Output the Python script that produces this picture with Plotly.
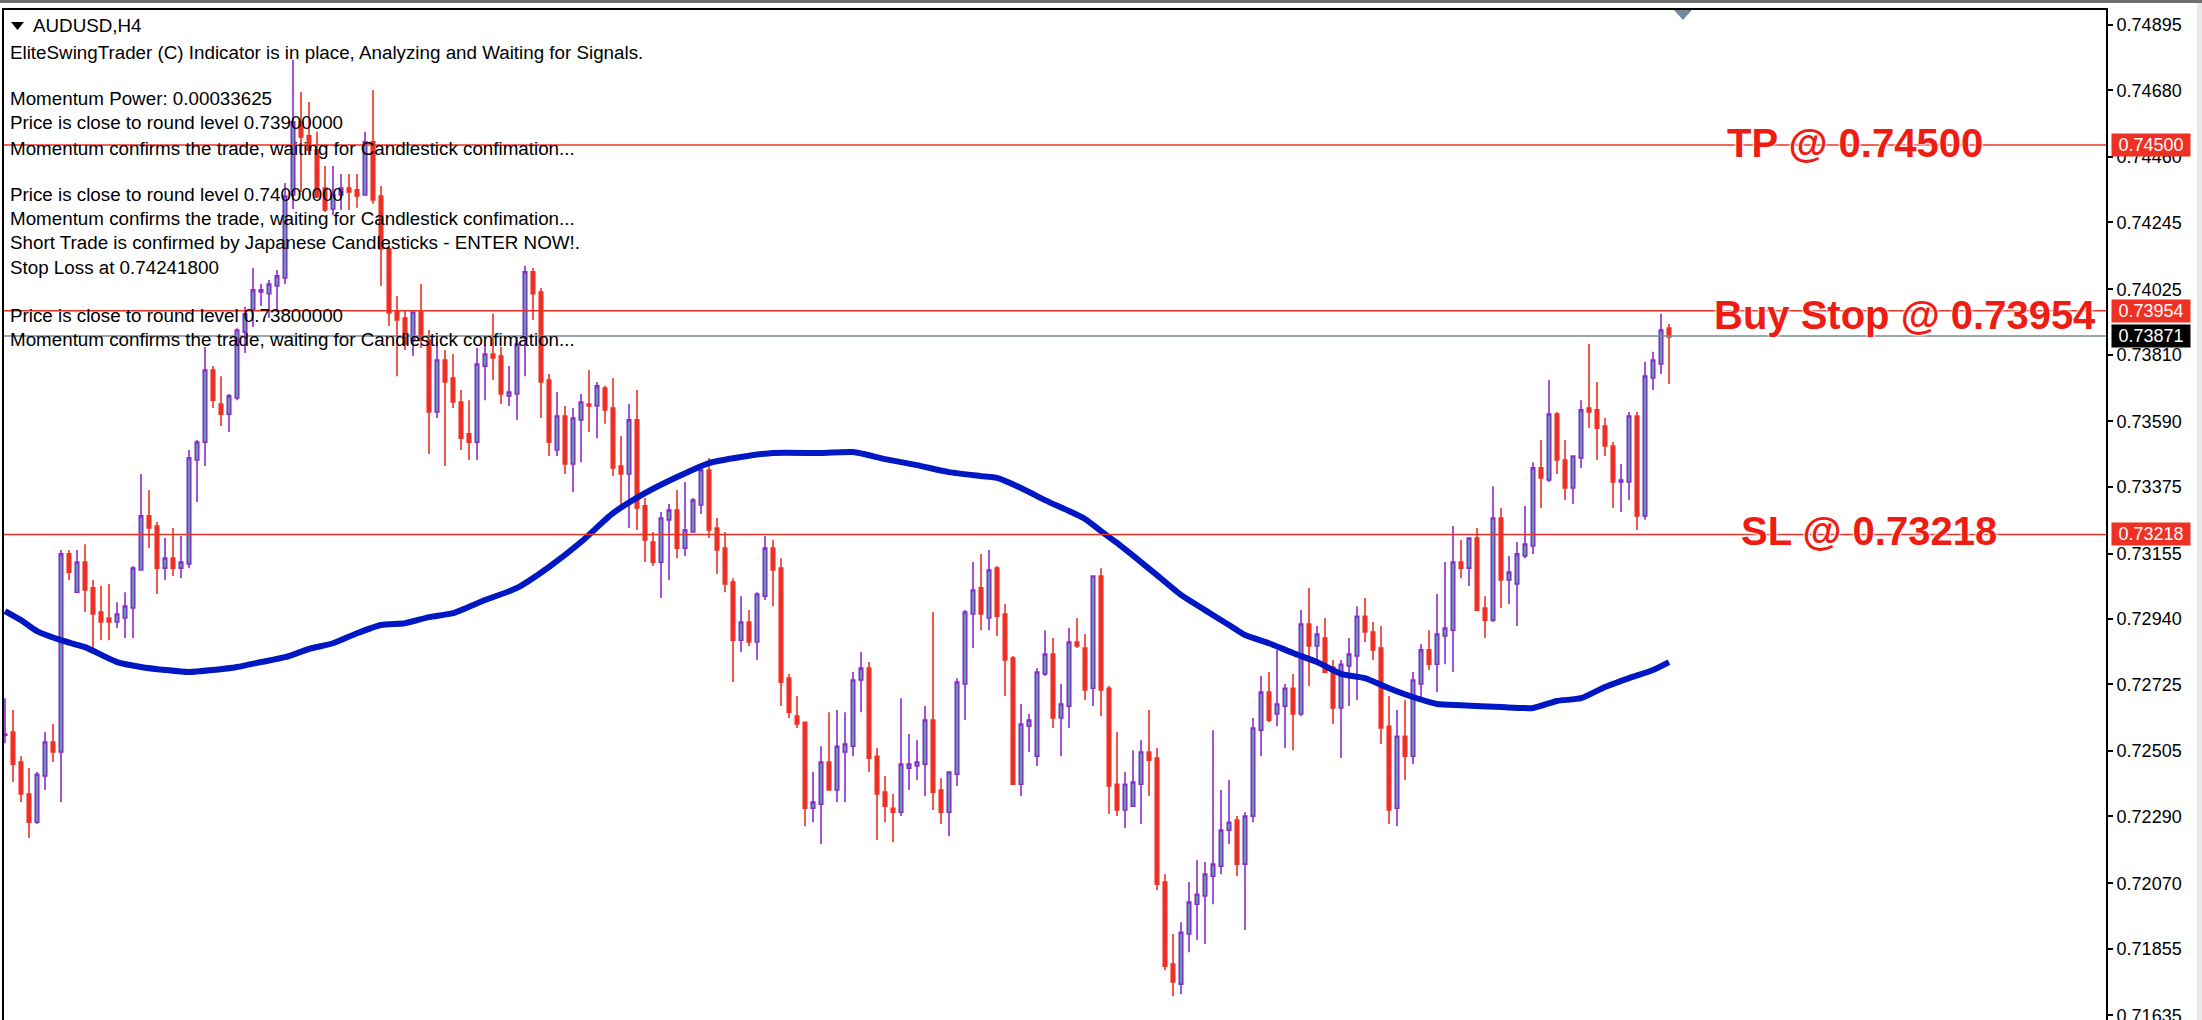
import plotly.graph_objects as go

# AUDUSD H4 candles
open_ = [
    0.72557, 0.72568, 0.72469, 0.72364, 0.72271, 0.72423, 0.72535, 0.72502, 0.73154, 0.73028,
    0.73127, 0.73042, 0.72963, 0.72943, 0.72930, 0.72943, 0.72976, 0.73101, 0.73279, 0.73246,
    0.73107, 0.73140, 0.73107, 0.73121, 0.73463, 0.73522, 0.73759, 0.73647, 0.73614, 0.73667,
    0.73884, 0.73957, 0.74016, 0.74010, 0.74036, 0.74062, 0.74335, 0.74576, 0.74530, 0.74483,
    0.74358, 0.74289, 0.74335, 0.74358, 0.74352, 0.74335, 0.74510, 0.74332, 0.74158, 0.73954,
    0.73930, 0.73858, 0.73950, 0.73858, 0.73621, 0.73792, 0.73733, 0.73654, 0.73549, 0.73522,
    0.73772, 0.73812, 0.73805, 0.73674, 0.73680, 0.73865, 0.74082, 0.74016, 0.73726, 0.73496,
    0.73608, 0.73450, 0.73595, 0.73647, 0.73641, 0.73700, 0.73634, 0.73443, 0.73417, 0.73595,
    0.73312, 0.73193, 0.73127, 0.73266, 0.73298, 0.73173, 0.73226, 0.73315, 0.73430, 0.73239,
    0.73173, 0.73061, 0.72870, 0.72930, 0.72864, 0.73015, 0.73173, 0.73107, 0.72745, 0.72620,
    0.72600, 0.72317, 0.72330, 0.72469, 0.72377, 0.72502, 0.72521, 0.72739, 0.72778, 0.72488,
    0.72370, 0.72317, 0.72304, 0.72449, 0.72456, 0.72462, 0.72607, 0.72377, 0.72304, 0.72429,
    0.72726, 0.72956, 0.73042, 0.72943, 0.73107, 0.72956, 0.72811, 0.72396, 0.72587, 0.72488,
    0.72759, 0.72824, 0.72614, 0.72653, 0.72864, 0.72844, 0.72712, 0.73081, 0.72712, 0.72396,
    0.72311, 0.72324, 0.72396, 0.72502, 0.72482, 0.72074, 0.71804, 0.71738, 0.71903, 0.72001,
    0.72028, 0.72093, 0.72126, 0.72245, 0.72278, 0.72133, 0.72291, 0.72574, 0.72699, 0.72627,
    0.72653, 0.72712, 0.72627, 0.72923, 0.72851, 0.72877, 0.72782, 0.72647, 0.72785, 0.72818,
    0.72949, 0.72897, 0.72844, 0.72587, 0.72317, 0.72554, 0.72488, 0.72726, 0.72838, 0.72791,
    0.72884, 0.72903, 0.73127, 0.73107, 0.73206, 0.72976, 0.72936, 0.73272, 0.73068, 0.73055,
    0.73147, 0.73180, 0.73437, 0.73397, 0.73614, 0.73463, 0.73371, 0.73470, 0.73634, 0.73628,
    0.73575, 0.73509, 0.73391, 0.73391, 0.73608, 0.73279, 0.73733, 0.73779, 0.73897,
]
high = [
    0.72679, 0.72640, 0.72488, 0.72449, 0.72436, 0.72568, 0.72594, 0.73167, 0.73167, 0.73167,
    0.73186, 0.73068, 0.73048, 0.73055, 0.72995, 0.73028, 0.73114, 0.73417, 0.73364, 0.73259,
    0.73206, 0.73239, 0.73213, 0.73496, 0.73529, 0.73835, 0.73772, 0.73739, 0.73680, 0.73897,
    0.73967, 0.74095, 0.74042, 0.74055, 0.74088, 0.74375, 0.74780, 0.74674, 0.74641, 0.74543,
    0.74431, 0.74431, 0.74404, 0.74404, 0.74404, 0.74543, 0.74681, 0.74365, 0.74171, 0.74003,
    0.73957, 0.73950, 0.74042, 0.73891, 0.73851, 0.73825, 0.73812, 0.73693, 0.73660, 0.73832,
    0.73842, 0.73944, 0.73835, 0.73772, 0.73868, 0.74102, 0.74095, 0.74029, 0.73746, 0.73687,
    0.73641, 0.73634, 0.73680, 0.73759, 0.73720, 0.73707, 0.73733, 0.73542, 0.73647, 0.73693,
    0.73338, 0.73226, 0.73292, 0.73318, 0.73364, 0.73391, 0.73338, 0.73440, 0.73470, 0.73272,
    0.73226, 0.73074, 0.73015, 0.72969, 0.73028, 0.73213, 0.73200, 0.73140, 0.72759, 0.72686,
    0.72600, 0.72436, 0.72521, 0.72633, 0.72640, 0.72633, 0.72765, 0.72831, 0.72798, 0.72515,
    0.72423, 0.72364, 0.72679, 0.72561, 0.72541, 0.72653, 0.72963, 0.72416, 0.72436, 0.72745,
    0.72969, 0.73127, 0.73154, 0.73167, 0.73114, 0.72989, 0.72818, 0.72660, 0.72627, 0.72778,
    0.72903, 0.72877, 0.72726, 0.72910, 0.72943, 0.72890, 0.73081, 0.73107, 0.72719, 0.72568,
    0.72436, 0.72508, 0.72541, 0.72640, 0.72515, 0.72100, 0.71903, 0.71942, 0.72074, 0.72146,
    0.72140, 0.72574, 0.72377, 0.72410, 0.72291, 0.72304, 0.72614, 0.72752, 0.72765, 0.72838,
    0.72726, 0.72759, 0.72969, 0.73042, 0.72917, 0.72943, 0.72805, 0.72805, 0.72877, 0.72982,
    0.73009, 0.72930, 0.72917, 0.72686, 0.72640, 0.72673, 0.72765, 0.72857, 0.72903, 0.73022,
    0.73127, 0.73246, 0.73200, 0.73206, 0.73239, 0.73015, 0.73377, 0.73305, 0.73147, 0.73193,
    0.73312, 0.73456, 0.73529, 0.73726, 0.73621, 0.73529, 0.73476, 0.73660, 0.73845, 0.73720,
    0.73601, 0.73522, 0.73450, 0.73621, 0.73621, 0.73786, 0.73819, 0.73944, 0.73911,
]
low = [
    0.72531, 0.72403, 0.72337, 0.72219, 0.72265, 0.72377, 0.72469, 0.72337, 0.73068, 0.73028,
    0.72963, 0.72844, 0.72870, 0.72870, 0.72910, 0.72877, 0.72877, 0.73101, 0.73173, 0.73022,
    0.73068, 0.73081, 0.73074, 0.73107, 0.73325, 0.73443, 0.73634, 0.73575, 0.73555, 0.73660,
    0.73815, 0.73901, 0.73970, 0.73930, 0.73950, 0.74042, 0.74289, 0.74345, 0.74467, 0.74325,
    0.74279, 0.74269, 0.74286, 0.74286, 0.74293, 0.74335, 0.74306, 0.74036, 0.73904, 0.73739,
    0.73825, 0.73805, 0.73832, 0.73483, 0.73601, 0.73443, 0.73634, 0.73496, 0.73463, 0.73463,
    0.73660, 0.73726, 0.73647, 0.73641, 0.73595, 0.73739, 0.73924, 0.73601, 0.73476, 0.73476,
    0.73417, 0.73358, 0.73456, 0.73555, 0.73535, 0.73582, 0.73410, 0.73312, 0.73239, 0.73233,
    0.73127, 0.73114, 0.73009, 0.73068, 0.73140, 0.73147, 0.73226, 0.73285, 0.73206, 0.73088,
    0.73028, 0.72732, 0.72831, 0.72851, 0.72805, 0.73002, 0.72982, 0.72653, 0.72614, 0.72581,
    0.72258, 0.72271, 0.72199, 0.72377, 0.72337, 0.72337, 0.72488, 0.72633, 0.72436, 0.72212,
    0.72271, 0.72205, 0.72291, 0.72377, 0.72410, 0.72357, 0.72311, 0.72265, 0.72225, 0.72390,
    0.72607, 0.72844, 0.72903, 0.72903, 0.72884, 0.72686, 0.72396, 0.72357, 0.72502, 0.72456,
    0.72752, 0.72581, 0.72488, 0.72581, 0.72844, 0.72673, 0.72653, 0.72620, 0.72298, 0.72291,
    0.72252, 0.72324, 0.72265, 0.72357, 0.72047, 0.71784, 0.71698, 0.71705, 0.71843, 0.71883,
    0.71870, 0.72001, 0.72100, 0.72199, 0.72093, 0.71916, 0.72271, 0.72488, 0.72600, 0.72587,
    0.72515, 0.72508, 0.72620, 0.72719, 0.72805, 0.72765, 0.72594, 0.72482, 0.72653, 0.72673,
    0.72864, 0.72805, 0.72528, 0.72265, 0.72258, 0.72410, 0.72462, 0.72673, 0.72772, 0.72699,
    0.72791, 0.72765, 0.73074, 0.73048, 0.72969, 0.72877, 0.72930, 0.72976, 0.72989, 0.72917,
    0.73140, 0.73154, 0.73305, 0.73391, 0.73417, 0.73331, 0.73318, 0.73437, 0.73568, 0.73463,
    0.73476, 0.73305, 0.73292, 0.73331, 0.73233, 0.73266, 0.73693, 0.73746, 0.73713,
]
close = [
    0.72561, 0.72462, 0.72364, 0.72271, 0.72429, 0.72535, 0.72502, 0.73154, 0.73094, 0.73127,
    0.73035, 0.72956, 0.72930, 0.72930, 0.72956, 0.72982, 0.73107, 0.73279, 0.73239, 0.73107,
    0.73140, 0.73107, 0.73127, 0.73470, 0.73522, 0.73759, 0.73660, 0.73614, 0.73674, 0.73891,
    0.73944, 0.74023, 0.74023, 0.74042, 0.74069, 0.74332, 0.74576, 0.74526, 0.74483, 0.74329,
    0.74286, 0.74335, 0.74358, 0.74345, 0.74332, 0.74510, 0.74319, 0.74158, 0.73947, 0.73924,
    0.73845, 0.73950, 0.73858, 0.73621, 0.73792, 0.73720, 0.73654, 0.73535, 0.73522, 0.73779,
    0.73812, 0.73799, 0.73680, 0.73687, 0.73845, 0.74082, 0.74010, 0.73720, 0.73522, 0.73608,
    0.73450, 0.73601, 0.73654, 0.73641, 0.73707, 0.73628, 0.73437, 0.73417, 0.73595, 0.73305,
    0.73200, 0.73127, 0.73272, 0.73298, 0.73173, 0.73233, 0.73331, 0.73430, 0.73233, 0.73167,
    0.73055, 0.72870, 0.72930, 0.72864, 0.73022, 0.73173, 0.73101, 0.72732, 0.72633, 0.72594,
    0.72317, 0.72337, 0.72469, 0.72377, 0.72521, 0.72528, 0.72739, 0.72778, 0.72482, 0.72364,
    0.72324, 0.72304, 0.72462, 0.72462, 0.72469, 0.72607, 0.72370, 0.72304, 0.72436, 0.72732,
    0.72963, 0.73035, 0.72956, 0.73101, 0.72949, 0.72805, 0.72396, 0.72594, 0.72607, 0.72765,
    0.72824, 0.72614, 0.72660, 0.72864, 0.72851, 0.72706, 0.73081, 0.72706, 0.72390, 0.72311,
    0.72396, 0.72403, 0.72502, 0.72475, 0.72067, 0.71797, 0.71745, 0.71909, 0.72008, 0.72034,
    0.72100, 0.72133, 0.72245, 0.72271, 0.72133, 0.72291, 0.72581, 0.72699, 0.72607, 0.72660,
    0.72712, 0.72627, 0.72923, 0.72851, 0.72890, 0.72765, 0.72647, 0.72791, 0.72824, 0.72949,
    0.72897, 0.72838, 0.72581, 0.72311, 0.72554, 0.72488, 0.72739, 0.72838, 0.72791, 0.72890,
    0.72910, 0.73127, 0.73107, 0.73206, 0.72969, 0.72936, 0.73272, 0.73068, 0.73094, 0.73154,
    0.73186, 0.73437, 0.73404, 0.73614, 0.73463, 0.73371, 0.73476, 0.73628, 0.73621, 0.73568,
    0.73509, 0.73391, 0.73397, 0.73608, 0.73279, 0.73739, 0.73792, 0.73891, 0.73868,
]
bars = list(range(len(close)))

# Moving average, sampled at these bars
ma_bars = [
    0, 2, 4, 7, 10, 14, 17, 20, 23, 26, 29, 32, 35, 38, 41, 44, 47, 50, 53, 56, 60, 64, 68, 72,
    76, 80, 84, 88, 92, 96, 102, 106, 110, 114, 118, 122, 124, 127, 130, 133, 135, 137, 139, 142,
    144, 147, 150, 153, 155, 158, 161, 164, 167, 170, 173, 176, 179, 182, 187, 191, 194, 197,
    200, 203, 206, 208,
]
ma_values = [
    0.72966, 0.72936, 0.72900, 0.72870, 0.72847, 0.72798, 0.72782, 0.72772, 0.72765, 0.72772,
    0.72782, 0.72798, 0.72814, 0.72841, 0.72860, 0.72893, 0.72920, 0.72926, 0.72946, 0.72959,
    0.73002, 0.73042, 0.73111, 0.73193, 0.73288, 0.73354, 0.73407, 0.73453, 0.73473, 0.73486,
    0.73486, 0.73489, 0.73466, 0.73446, 0.73423, 0.73410, 0.73404, 0.73371, 0.73331, 0.73295,
    0.73269, 0.73229, 0.73190, 0.73127, 0.73084, 0.73019, 0.72969, 0.72920, 0.72887, 0.72860,
    0.72828, 0.72798, 0.72759, 0.72745, 0.72712, 0.72683, 0.72660, 0.72656, 0.72650, 0.72647,
    0.72670, 0.72679, 0.72716, 0.72745, 0.72772, 0.72798,
]

tick_values = [
    0.74895, 0.74680, 0.74460, 0.74245, 0.74025, 0.73810, 0.73590, 0.73375,
    0.73155, 0.72940, 0.72725, 0.72505, 0.72290, 0.72070, 0.71855, 0.71635,
]
tick_labels = ["%.5f" % v for v in tick_values]

# Horizontal price levels
level_prices = [0.74500, 0.73954, 0.73218, 0.73871]
level_colors = ["#EE3124", "#EE3124", "#EE3124", "#778899"]
level_boxes = ["#EE3124", "#EE3124", "#EE3124", "#000000"]

big_labels = ["TP @ 0.74500", "Buy Stop @ 0.73954", "SL @ 0.73218"]
big_label_bars = [231.25, 237.5, 233.0]
big_label_prices = [0.74505, 0.73940, 0.73230]

comment_lines = [
    "AUDUSD,H4",
    "EliteSwingTrader (C) Indicator is in place, Analyzing and Waiting for Signals.",
    "Momentum Power: 0.00033625",
    "Price is close to round level 0.73900000",
    "Momentum confirms the trade, waiting for Candlestick confimation...",
    "Price is close to round level 0.74000000",
    "Momentum confirms the trade, waiting for Candlestick confimation...",
    "Short Trade is confirmed by Japanese Candlesticks - ENTER NOW!.",
    "Stop Loss at 0.74241800",
    "Price is close to round level 0.73800000",
    "Momentum confirms the trade, waiting for Candlestick confimation...",
]
comment_x = [31, 8, 8, 8, 8, 8, 8, 8, 8, 8, 8]
comment_y = [25, 52, 99, 123, 148, 195, 219, 243, 267, 315, 339]

# Page and plot box, in pixels
WIDTH, HEIGHT = 2202, 1020
LEFT, RIGHT, TOP = 4, 2106, 10
FONT = "Liberation Sans"


def paper_x(px):
    return (px - LEFT) / (RIGHT - LEFT)


def paper_y(py):
    return 1 - (py - TOP) / (HEIGHT - TOP)


fig = go.Figure()

fig.add_trace(go.Candlestick(
    x=bars, open=open_, high=high, low=low, close=close,
    increasing=dict(line=dict(color="#8A2BD2", width=1.6), fillcolor="#56AB9E"),
    decreasing=dict(line=dict(color="#EE3124", width=1.6), fillcolor="#EE3124"),
    whiskerwidth=0,
    hoverinfo="skip",
    showlegend=False,
))

fig.add_trace(go.Scatter(
    x=ma_bars, y=ma_values, mode="lines",
    line=dict(color="#0018C4", width=6, shape="spline", smoothing=0.6),
    hoverinfo="skip",
    showlegend=False,
))

# Level lines sit on top of the candles
for price, color in zip(level_prices, level_colors):
    fig.add_shape(type="line", xref="paper", x0=0, x1=1, yref="y", y0=price, y1=price,
                  line=dict(color=color, width=1.5), layer="above")

# Little window furniture: top bar, right strip, markers
fig.add_shape(type="rect", xref="paper", yref="paper", x0=paper_x(0), x1=paper_x(WIDTH),
              y0=paper_y(3), y1=paper_y(0), fillcolor="#6E6E6E", line_width=0)
fig.add_shape(type="rect", xref="paper", yref="paper", x0=paper_x(2197), x1=paper_x(WIDTH),
              y0=paper_y(HEIGHT), y1=paper_y(3), fillcolor="#E8E8E8", line_width=0)
fig.add_shape(type="path", xref="paper", yref="paper",
              path="M %f,%f L %f,%f L %f,%f Z" % (paper_x(1674), paper_y(10), paper_x(1692), paper_y(10),
                                                  paper_x(1683), paper_y(20)),
              fillcolor="#778899", line_width=0)
fig.add_shape(type="path", xref="paper", yref="paper",
              path="M %f,%f L %f,%f L %f,%f Z" % (paper_x(11), paper_y(22), paper_x(24), paper_y(22),
                                                  paper_x(17.5), paper_y(30)),
              fillcolor="#000000", line_width=0)

annotations = []
for text, px, py in zip(comment_lines, comment_x, comment_y):
    annotations.append(dict(
        text=text, xref="paper", yref="paper", x=paper_x(px), y=paper_y(py),
        xanchor="left", yanchor="middle", showarrow=False,
        font=dict(family=FONT, size=18.8, color="#000000"),
    ))

for text, bar, price in zip(big_labels, big_label_bars, big_label_prices):
    annotations.append(dict(
        text=text, xref="x", yref="y", x=bar, y=price,
        xanchor="center", yanchor="middle", showarrow=False,
        font=dict(family=FONT, size=40, color="#EE1C12", weight="bold",
                  shadow="0 0 3px #fff, 0 0 3px #fff, 0 0 3px #fff"),
    ))

for price, box in zip(level_prices, level_boxes):
    annotations.append(dict(
        text="%.5f" % price, xref="paper", yref="y", x=paper_x(2151), y=price,
        xanchor="center", yanchor="middle", showarrow=False,
        width=78, height=22, bgcolor=box, borderpad=0,
        font=dict(family=FONT, size=18, color="#FFFFFF"),
    ))

fig.update_layout(
    width=WIDTH,
    height=HEIGHT,
    margin=dict(l=LEFT, r=WIDTH - RIGHT, t=TOP, b=0, autoexpand=False),
    paper_bgcolor="white",
    plot_bgcolor="white",
    showlegend=False,
    boxgap=0.38,
    annotations=annotations,
    xaxis=dict(
        range=[-0.125, 262.625], side="top", rangeslider=dict(visible=False),
        showgrid=False, zeroline=False, showticklabels=False, ticks="",
        showline=True, linecolor="#000000", linewidth=2,
    ),
    yaxis=dict(
        range=[0.71620, 0.74944], side="right",
        tickmode="array", tickvals=tick_values, ticktext=tick_labels,
        showgrid=False, zeroline=False,
        showline=True, mirror=True, linecolor="#000000", linewidth=2,
        ticks="outside", ticklen=5, tickwidth=1.5, tickcolor="#000000",
        tickfont=dict(family=FONT, size=18, color="#000000"),
        ticklabeloverflow="allow",
    ),
)

# browser default body margin would shift the fixed-size plot
fig.write_html("out.html", post_script="document.body.style.margin='0';", config=dict(displayModeBar=False))
